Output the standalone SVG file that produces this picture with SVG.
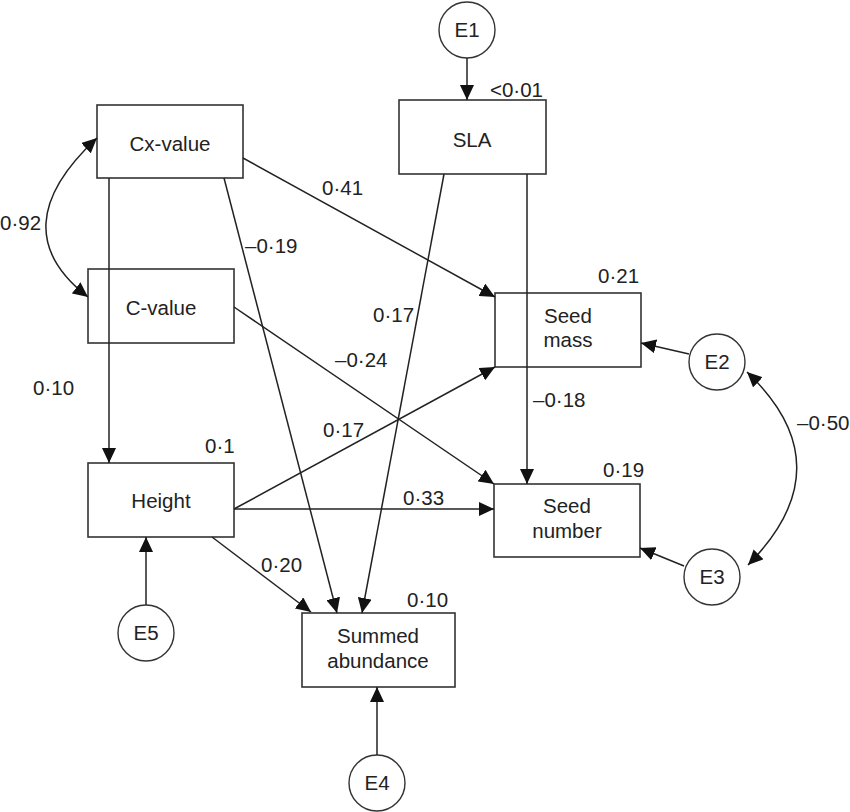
<svg xmlns="http://www.w3.org/2000/svg" width="850" height="812" viewBox="0 0 850 812">
<style>
.box{fill:#fff;stroke:#333;stroke-width:1.6}
.circ{fill:#fff;stroke:#333;stroke-width:1.4}
.t{font-family:"Liberation Sans",Arial,sans-serif;font-size:20.5px;fill:#222}
.m{text-anchor:middle}
.c{fill:none;stroke:#222;stroke-width:1.5}
</style>
<defs>
<marker id="ah" markerUnits="userSpaceOnUse" markerWidth="15" markerHeight="14" refX="15" refY="7" orient="auto-start-reverse">
<path d="M0,0 L15,7 L0,14 z" fill="#111"/>
</marker>
</defs>
<rect width="850" height="812" fill="#fff"/>
<g id="E1"><circle class="circ" cx="467" cy="30" r="28"/><text class="t m" x="467" y="37">E1</text></g>
<g id="SLA"><rect class="box" x="399" y="100" width="147" height="74"/><text class="t m" x="472" y="147">SLA</text><text class="t" x="490" y="97">&lt;0·01</text></g>
<g id="Cx-value"><rect class="box" x="97" y="105" width="146" height="73"/><text class="t m" x="170" y="151">Cx-value</text></g>
<g id="C-value"><rect class="box" x="88" y="269" width="146" height="74"/><text class="t m" x="161" y="315">C-value</text></g>
<g id="SeedMass"><rect class="box" x="495" y="293" width="146" height="74"/><text class="t m" x="568" y="323">Seed</text><text class="t m" x="568" y="347">mass</text><text class="t" x="598" y="283">0·21</text></g>
<g id="SeedNumber"><rect class="box" x="494" y="484" width="146" height="73"/><text class="t m" x="567" y="513">Seed</text><text class="t m" x="567" y="538">number</text><text class="t" x="603" y="477">0·19</text></g>
<g id="Height"><rect class="box" x="88" y="463" width="146" height="74"/><text class="t m" x="161" y="508">Height</text><text class="t" x="205" y="453">0·1</text></g>
<g id="Summed"><rect class="box" x="302" y="613" width="153" height="74"/><text class="t m" x="378" y="643">Summed</text><text class="t m" x="378" y="668">abundance</text><text class="t" x="407" y="607">0·10</text></g>
<g id="E2"><circle class="circ" cx="717" cy="362" r="28"/><text class="t m" x="717" y="369">E2</text></g>
<g id="E3"><circle class="circ" cx="712" cy="577" r="28"/><text class="t m" x="712" y="584">E3</text></g>
<g id="E4"><circle class="circ" cx="377" cy="783" r="28"/><text class="t m" x="377" y="790">E4</text></g>
<g id="E5"><circle class="circ" cx="146" cy="633" r="28"/><text class="t m" x="146" y="640">E5</text></g>
<g id="connectors">
<path class="c" d="M467,58 L467,100" marker-end="url(#ah)"/>
<path class="c" d="M109,178 L109,463" marker-end="url(#ah)"/>
<path class="c" d="M97,138 Q-0.5,228.5 88,297" marker-start="url(#ah)" marker-end="url(#ah)"/>
<path class="c" d="M243,158 L495,297" marker-end="url(#ah)"/>
<path class="c" d="M224,178 L337,613" marker-end="url(#ah)"/>
<path class="c" d="M444,174 L362,613" marker-end="url(#ah)"/>
<path class="c" d="M527,174 L527,484" marker-end="url(#ah)"/>
<path class="c" d="M234,307 L494,484" marker-end="url(#ah)"/>
<path class="c" d="M234,509 L495,367" marker-end="url(#ah)"/>
<path class="c" d="M234,509 L494,509" marker-end="url(#ah)"/>
<path class="c" d="M212,537 L311,612" marker-end="url(#ah)"/>
<path class="c" d="M146,605 L146,537" marker-end="url(#ah)"/>
<path class="c" d="M377,755 L377,687" marker-end="url(#ah)"/>
<path class="c" d="M689,354 L641,343" marker-end="url(#ah)"/>
<path class="c" d="M684,566 L640,548" marker-end="url(#ah)"/>
<path class="c" d="M747,372 Q846,466 748,565" marker-start="url(#ah)" marker-end="url(#ah)"/>
<text class="t" x="0" y="230">0·92</text>
<text class="t" x="33" y="395">0·10</text>
<text class="t" x="322" y="195">0·41</text>
<text class="t" x="245" y="253">–0·19</text>
<text class="t" x="373" y="322">0·17</text>
<text class="t" x="335" y="367">–0·24</text>
<text class="t" x="533" y="407">–0·18</text>
<text class="t" x="323" y="437">0·17</text>
<text class="t" x="403" y="505">0·33</text>
<text class="t" x="261" y="572">0·20</text>
<text class="t" x="797" y="430">–0·50</text>
</g>
</svg>
